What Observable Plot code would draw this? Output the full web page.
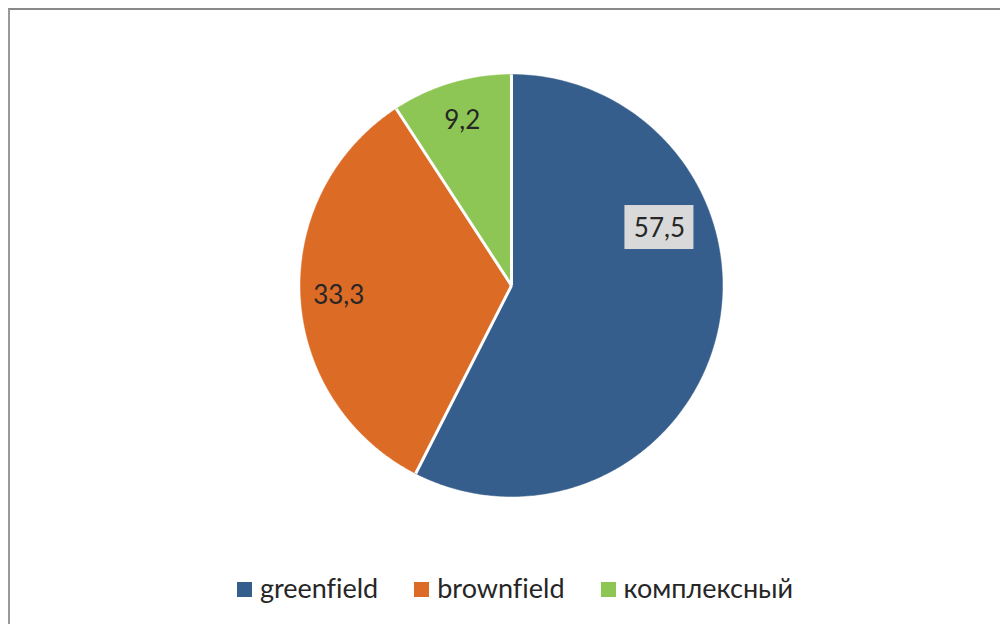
<!DOCTYPE html>
<html>
<head>
<meta charset="utf-8">
<script src="https://cdn.jsdelivr.net/npm/d3@7"></script>
<script src="https://cdn.jsdelivr.net/npm/@observablehq/plot@0.6"></script>
<style>
  html, body { margin: 0; padding: 0; background: #fff; }
  body { width: 1000px; height: 624px; position: relative; overflow: hidden; font-family: Lato, "Open Sans", sans-serif; }
  #frame { position: absolute; left: 8px; top: 8px; width: 1100px; height: 700px; border-top: 2px solid #898989; border-left: 2px solid #9a9a9a; box-sizing: border-box; }
  #chart { position: absolute; left: 0; top: 0; }
  #legend { position: absolute; left: 0; top: 571px; width: 1000px; padding-left: 30px; box-sizing: border-box; display: flex; justify-content: center; align-items: center; gap: 36px; font-size: 27px; color: #262626; font-variant-ligatures: none; }
  .item { display: flex; align-items: center; }
  .sw { width: 15px; height: 15px; margin-right: 8px; margin-top: 3px; }
</style>
</head>
<body>
<div id="frame"></div>
<div id="chart"></div>
<div id="legend"></div>
<script>
const categories = ["greenfield", "brownfield", "комплексный"];
const values = [57.5, 33.3, 9.2];
const valueLabels = ["57,5", "33,3", "9,2"];
const colors = ["#365E8D", "#DC6B26", "#8EC655"];

// pie geometry from values (clockwise from 12 o'clock)
const arcs = d3.pie().sort(null).startAngle(0).endAngle(2 * Math.PI)(values);
const polys = [];
const seps = [];
arcs.forEach((a, i) => {
  const cat = categories[i];
  polys.push({cat, x: 0, y: 0});
  const n = Math.max(2, Math.ceil((a.endAngle - a.startAngle) / (Math.PI / 360)));
  for (let k = 0; k <= n; k++) {
    const t = a.startAngle + (a.endAngle - a.startAngle) * k / n;
    polys.push({cat, x: Math.sin(t), y: Math.cos(t)});
  }
  seps.push({x1: 0, y1: 0, x2: Math.sin(a.startAngle), y2: Math.cos(a.startAngle)});
});

// label placement (layout): mid-angle at 0.82r, Excel moved the largest label
const labelPos = arcs.map((a, i) => {
  let ang = (a.startAngle + a.endAngle) / 2, r = 0.82;
  if (i === 0) { ang = 68.6 * Math.PI / 180; r = 0.753; }
  return {label: valueLabels[i], x: r * Math.sin(ang), y: r * Math.cos(ang), boxed: i === 0};
});
const bw = 34.5 / 211, bh = 22 / 211;
const boxes = labelPos.filter(d => d.boxed);

const chart = Plot.plot({
  width: 1000,
  height: 560,
  marginLeft: 300,
  marginRight: 278,
  marginTop: 74,
  marginBottom: 64,
  x: {domain: [-1, 1], axis: null},
  y: {domain: [-1, 1], axis: null},
  color: {domain: categories, range: colors},
  style: {background: "transparent", overflow: "visible"},
  marks: [
    Plot.line(polys, {x: "x", y: "y", z: "cat", fill: "cat", stroke: "cat", strokeWidth: 0.5, curve: "linear-closed"}),
    Plot.link(seps, {x1: "x1", y1: "y1", x2: "x2", y2: "y2", stroke: "white", strokeWidth: 3}),
    Plot.rect(boxes, {x1: d => d.x - bw, x2: d => d.x + bw, y1: d => d.y - bh, y2: d => d.y + bh, fill: "#D9D9D9"}),
    Plot.text(labelPos, {x: "x", y: "y", text: "label", fill: "#262626", fontSize: 26, fontFamily: "Lato", dy: 1})
  ]
});
document.getElementById("chart").appendChild(chart);

const legend = document.getElementById("legend");
categories.forEach((c, i) => {
  const it = document.createElement("div");
  it.className = "item";
  const sw = document.createElement("span");
  sw.className = "sw";
  sw.style.background = colors[i];
  const tx = document.createElement("span");
  tx.textContent = c;
  it.appendChild(sw); it.appendChild(tx);
  legend.appendChild(it);
});
</script>
</body>
</html>
